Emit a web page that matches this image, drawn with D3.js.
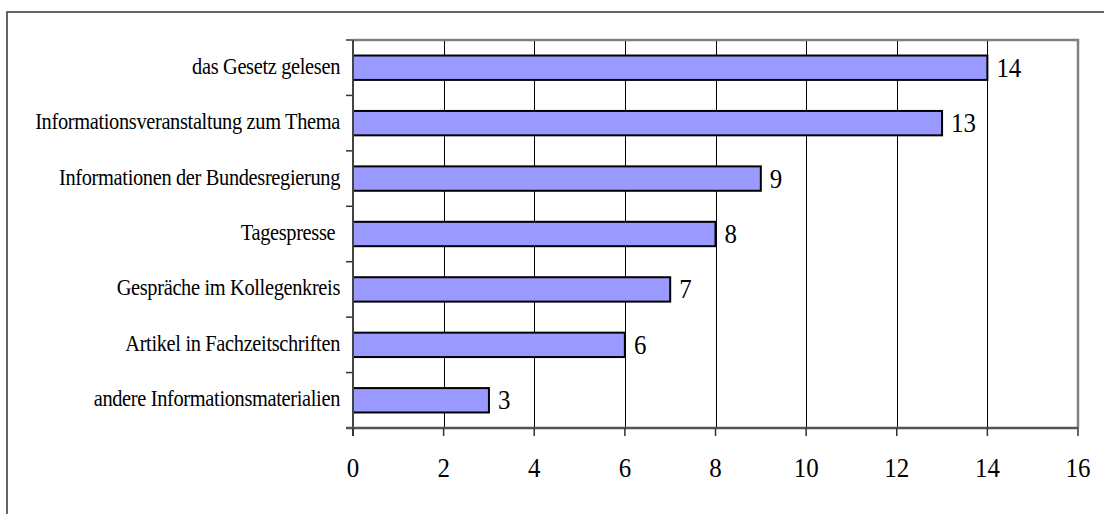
<!DOCTYPE html>
<html>
<head>
<meta charset="utf-8">
<script src="https://cdn.jsdelivr.net/npm/d3@7"></script>
<style>
  html, body { margin: 0; padding: 0; background: #fff; }
  svg { display: block; }
  text { font-family: "Liberation Serif", "Times New Roman", serif; fill: #000; white-space: pre; }
</style>
</head>
<body>
<svg id="chart" width="1104" height="514"></svg>
<script>
// Sources of information (number of answers)
const categories = [
  "das Gesetz gelesen",
  "Informationsveranstaltung zum Thema",
  "Informationen der Bundesregierung",
  "Tagespresse ",
  "Gespräche im Kollegenkreis",
  "Artikel in Fachzeitschriften",
  "andere Informationsmaterialien"
];
const counts = [14, 13, 9, 8, 7, 6, 3];
const xTicks = [0, 2, 4, 6, 8, 10, 12, 14, 16];

const svg = d3.select("#chart");
const plot = { left: 353, right: 1078, top: 40, bottom: 428 };
const squeeze = 0.89;      // horizontal narrowing of the numerals
const labelSqueeze = 0.85; // horizontal narrowing of the category labels

// Outer frame (runs past the right and bottom edges)
svg.append("rect")
  .attr("x", 7).attr("y", 12)
  .attr("width", 1200).attr("height", 600)
  .attr("fill", "none").attr("stroke", "#333").attr("stroke-width", 1.5);

const x = d3.scaleLinear().domain([0, 16]).range([plot.left, plot.right]);
const y = d3.scaleBand().domain(categories)
  .range([plot.top, plot.bottom])
  .paddingInner(0.56).paddingOuter(0.28);

// Vertical gridlines
svg.append("g").selectAll("line")
  .data(xTicks.filter(d => d > 0 && d < 16))
  .join("line")
  .attr("x1", d => Math.round(x(d)) + 0.5).attr("x2", d => Math.round(x(d)) + 0.5)
  .attr("y1", plot.top).attr("y2", plot.bottom)
  .attr("stroke", "#000").attr("stroke-width", 1);

// Plot area border: top and right in grey
svg.append("path")
  .attr("d", `M${plot.left},${plot.top}H${plot.right}V${plot.bottom}`)
  .attr("fill", "none").attr("stroke", "#808080").attr("stroke-width", 2.5);

// Bars
svg.append("g").selectAll("rect")
  .data(categories)
  .join("rect")
  .attr("x", x(0))
  .attr("y", d => y(d))
  .attr("width", (d, i) => x(counts[i]) - x(0))
  .attr("height", y.bandwidth())
  .attr("fill", "#9999FF")
  .attr("stroke", "#000").attr("stroke-width", 2);

// Value labels
svg.append("g").selectAll("text")
  .data(categories)
  .join("text")
  .attr("transform", (d, i) =>
    `translate(${x(counts[i]) + 9},${y(d) + y.bandwidth() / 2 + 9}) scale(${squeeze},1)`)
  .attr("font-size", 28)
  .text((d, i) => counts[i]);

// Y axis: line, ticks at band boundaries, category labels
const step = y.step();
const gap = (step - y.bandwidth()) / 2;
const boundaries = categories.map(c => y(c) - gap).concat([y(categories[categories.length - 1]) + y.bandwidth() + gap]);
const yAxis = svg.append("g");
yAxis.selectAll("line.tick")
  .data(boundaries)
  .join("line")
  .attr("class", "tick")
  .attr("x1", plot.left - 7).attr("x2", plot.left)
  .attr("y1", d => d).attr("y2", d => d)
  .attr("stroke", "#333").attr("stroke-width", 1.5);
yAxis.append("line")
  .attr("x1", plot.left).attr("x2", plot.left)
  .attr("y1", plot.top).attr("y2", plot.bottom + 8)
  .attr("stroke", "#444").attr("stroke-width", 2);
yAxis.selectAll("text")
  .data(categories)
  .join("text")
  .attr("transform", d => `translate(340,${y(d) + y.bandwidth() / 2 + 6}) scale(${labelSqueeze},1)`)
  .attr("text-anchor", "end")
  .attr("font-size", 24)
  .attr("letter-spacing", -0.4)
  .text(d => d);

// X axis: line, ticks, labels
const xAxis = svg.append("g");
xAxis.append("line")
  .attr("x1", plot.left - 7).attr("x2", plot.right)
  .attr("y1", plot.bottom).attr("y2", plot.bottom)
  .attr("stroke", "#555").attr("stroke-width", 2.5);
xAxis.selectAll("line.tick")
  .data(xTicks)
  .join("line")
  .attr("class", "tick")
  .attr("x1", d => x(d)).attr("x2", d => x(d))
  .attr("y1", plot.bottom).attr("y2", plot.bottom + 8)
  .attr("stroke", "#333").attr("stroke-width", 1.5);
xAxis.selectAll("text")
  .data(xTicks)
  .join("text")
  .attr("transform", d => `translate(${x(d)},477) scale(${squeeze},1)`)
  .attr("text-anchor", "middle")
  .attr("font-size", 28)
  .text(d => d);
</script>
</body>
</html>
